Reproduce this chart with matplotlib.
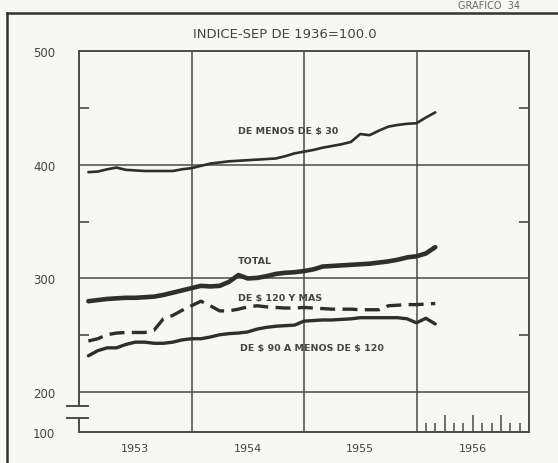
import numpy as np
import matplotlib
matplotlib.use("Agg")
import matplotlib.pyplot as plt
from matplotlib.lines import Line2D

# months counted from Jan 1953 (0) ; data points at month ends 1..38
months = list(range(1, 39))

menos_30 = [393.5, 394, 396, 397.5, 395.5, 395, 394.5, 394.5, 394.5, 394.5,
            396, 397, 399, 401, 402, 403, 403.5, 404, 404.5, 405,
            405.5, 407.5, 410, 411.5, 413, 415, 416.5, 418, 420, 427,
            426, 430, 433.5, 435, 436, 436.5, 441.5, 446]

total = [280, 281, 282, 282.5, 283, 283, 283.5, 284, 285.5, 287.5,
         289.5, 291.5, 293.5, 293, 293.5, 297, 303, 300, 300.5, 302,
         304, 305, 305.5, 306.5, 308, 310.5, 311, 311.5, 312, 312.5,
         313, 314, 315, 316.5, 318.5, 319.5, 322, 327.5]

de_120_mas = [245, 247, 250.5, 252, 252.5, 252.5, 252.5, 254.5, 264.5, 267.5,
              272, 276, 280, 276, 271.5, 271.5, 273, 275, 276, 275,
              274.5, 274, 274, 274.5, 274, 273.5, 273, 273, 273, 272.5,
              272.5, 272.5, 276, 276.5, 277, 277, 277.5, 278]

de_90_120 = [232, 236.5, 239, 239, 242, 244, 244, 243, 243, 244,
             246, 247, 247, 248.5, 250.5, 251.5, 252, 253, 255.5, 257,
             258, 258.5, 259, 262.5, 263, 263.5, 263.5, 264, 264.5, 265.5,
             265.5, 265.5, 265.5, 265.5, 264.5, 261, 265, 260]

years = ['1953', '1954', '1955', '1956']
year_centers = [6, 18, 30, 42]
ytick_vals = [165, 200, 300, 400, 500]
ytick_labels = ['100', '200', '300', '400', '500']
month_ticks_1956 = [37, 38, 39, 40, 41, 42, 43, 44, 45, 46, 47]

ink = '#2e2e2e'
grid = '#4a4a4a'
paper = '#f7f7f4'

fig = plt.figure(figsize=(5.58, 4.64), dpi=100, facecolor=paper)
ax = fig.add_axes([79/558, 1-433/464, 450/558, 381/464], facecolor=paper)

ax.set_xlim(0, 48)
ax.set_ylim(165, 500)

# grid
for v in [200, 300, 400]:
    ax.axhline(v, color=grid, lw=1.1, zorder=1)
for m in [12, 24, 36]:
    ax.axvline(m, color=grid, lw=1.1, zorder=1)

ax.plot(months, menos_30, color=ink, lw=1.9, solid_capstyle='round', zorder=3)
ax.plot(months, total, color=ink, lw=3.3, solid_capstyle='round', zorder=3)
ax.plot(months, de_120_mas, color=ink, lw=2.4, dashes=(4.5, 2.2), zorder=3)
ax.plot(months, de_90_120, color=ink, lw=2.4, solid_capstyle='round', zorder=3)

lab = dict(fontsize=6.8, fontweight='bold', color='#444444', ha='center', va='center')
ax.text(22.3, 500 - (131-52)/1.135, r'DE MENOS DE \$ 30', **lab)
ax.text(18.8, 500 - (261-52)/1.135, 'TOTAL', **lab)
ax.text(21.5, 500 - (298-52)/1.135, r'DE \$ 120 Y MAS', **lab)
ax.text(24.9, 500 - (348-52)/1.135, r'DE \$ 90 A MENOS DE \$ 120', **lab)

# spines, with a break on the left one
for s in ax.spines.values():
    s.set_color(grid)
    s.set_linewidth(1.4)
ax.spines['left'].set_visible(False)
yt = ax.get_yaxis_transform()
ax.plot([0, 0], [165, 177], color=grid, lw=1.4, transform=yt, clip_on=False)
ax.plot([0, 0], [188, 500], color=grid, lw=1.4, transform=yt, clip_on=False)
ax.plot([-0.027, 0.02], [177, 177], color=grid, lw=1.4, transform=yt, clip_on=False)
ax.plot([-0.027, 0.02], [188, 188], color=grid, lw=1.4, transform=yt, clip_on=False)

ax.set_yticks(ytick_vals)
ax.set_yticklabels(ytick_labels)
ax.set_yticks([250, 350, 450], minor=True)
ax.tick_params(axis='y', which='major', length=0, pad=17, labelsize=8.5, labelcolor='#444444')
ax.tick_params(axis='y', which='minor', direction='in', length=7, width=1.2,
               color=grid, left=True, right=True)

ax.set_xticks(year_centers)
ax.set_xticklabels(years)
ax.tick_params(axis='x', which='major', length=0, pad=8, labelsize=8, labelcolor='#444444')

# monthly ticks in 1956
xt = ax.get_xaxis_transform()
heights = [0.045 if m in (39, 42, 45) else 0.024 for m in month_ticks_1956]
ax.vlines(month_ticks_1956, 0, heights, color=grid, lw=1.1, transform=xt)

fig.text(0.511, 0.925, 'INDICE-SEP DE 1936=100.0', ha='center', va='center',
         fontsize=9.5, color='#444444')
fig.text(0.82, 1 - 6/464, 'GRAFICO  34', ha='left', va='center',
         fontsize=7, color='#666666')

# outer frame of the page
fig.add_artist(Line2D([7/558, 1], [1-14/464, 1-14/464], color='#333333', lw=1.8))
fig.add_artist(Line2D([7/558, 7/558], [0, 1-14/464], color='#333333', lw=1.8))

fig.savefig('out.png', dpi=100, facecolor=paper)
